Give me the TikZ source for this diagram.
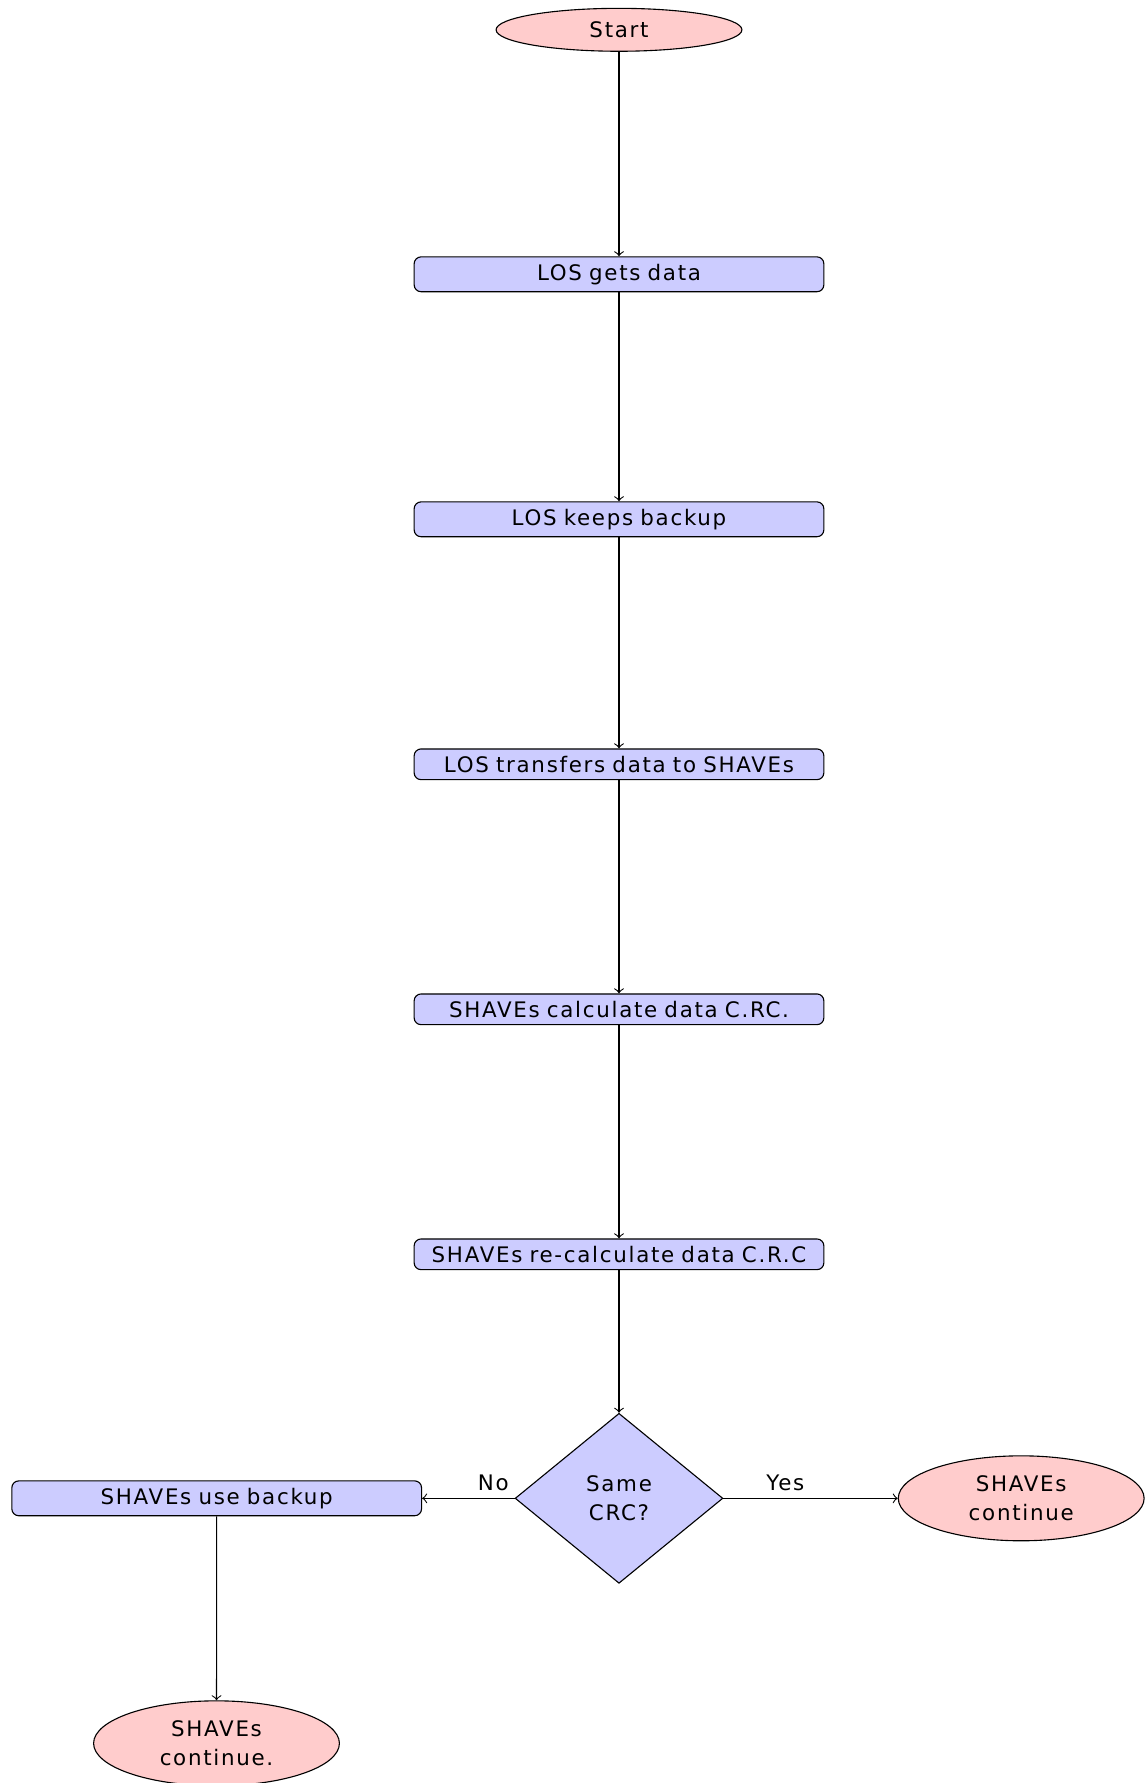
\documentclass[tikz,border=0pt]{standalone}
\usepackage{fontspec}
\newfontfamily\dvsans[LetterSpace=8]{DejaVu Sans}
\usetikzlibrary{shapes.geometric}
\tikzset{
  txt/.style={font=\fontsize{7.7}{10.7}\selectfont\dvsans},
  base/.style={draw=black, txt, align=center, inner sep=2.55pt},
  startstop/.style={base, ellipse, fill=red!20, minimum width=88.5pt},
  process/.style={base, rectangle, rounded corners=2.5pt, fill=blue!20, text width=142.4pt},
  decision/.style={base, diamond, fill=blue!20, minimum width=74.8pt, minimum height=61.2pt, inner sep=0pt},
  conn/.style={->, draw=black},
  lbl/.style={txt, above, inner sep=2.55pt}
}
\begin{document}
\begin{tikzpicture}[x=0.36pt, y=-0.36pt]
\useasboundingbox (0,0) rectangle (1146,1783);
\node[startstop] (start) at (619,29.8) {Start};
\node[process] (b1) at (619,274.3) {LOS gets data};
\node[process] (b2) at (619,519.3) {LOS keeps backup};
\node[process] (b3) at (619,764.3) {LOS transfers data to SHAVEs};
\node[process] (b4) at (619,1009.3) {SHAVEs calculate data C.RC.};
\node[process] (b5) at (619,1254.3) {SHAVEs re-calculate data C.R.C};
\node[decision] (dec) at (619,1498.3) {Same\\CRC?};
\node[process] (lb) at (216.7,1498.3) {SHAVEs use backup};
\node[startstop] (re) at (1021.2,1498.3) {SHAVEs\\continue};
\node[startstop] (be) at (216.5,1743.3) {SHAVEs\\continue.};
\draw[conn] (start) -- (b1);
\draw[conn] (b1) -- (b2);
\draw[conn] (b2) -- (b3);
\draw[conn] (b3) -- (b4);
\draw[conn] (b4) -- (b5);
\draw[conn] (b5) -- (dec);
\draw[conn] (dec.west) -- node[lbl, pos=0.23] (lno) {No} (lb.east);
\draw[conn] (dec.east) -- node[lbl, pos=0.355] (lyes) {Yes} (re.west);
\draw[conn] (lb) -- (be);
\end{tikzpicture}
\end{document}
